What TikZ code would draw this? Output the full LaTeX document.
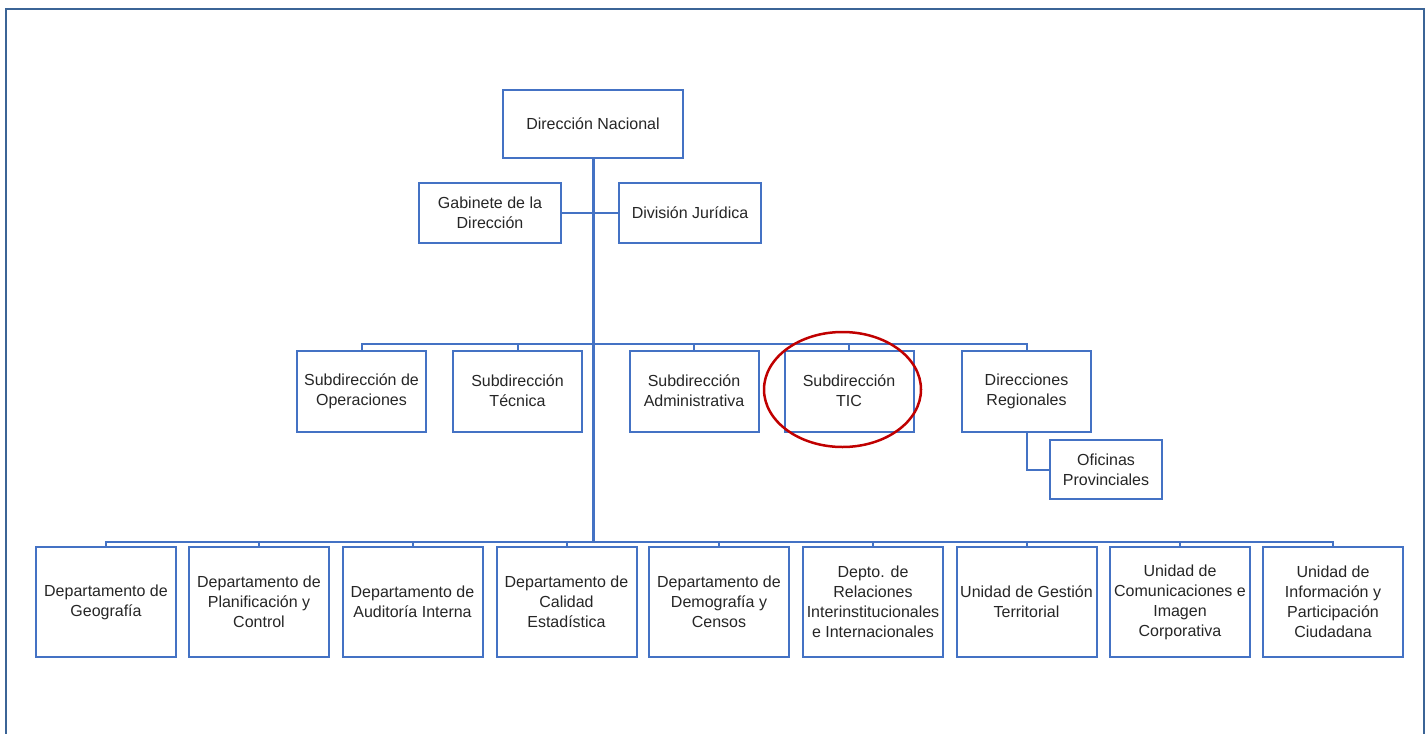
\documentclass[tikz,border=0pt]{standalone}
\usepackage{fontspec}
\setmainfont{Liberation Sans}
\usepackage{xcolor}
\usepackage{tikz}

\definecolor{boxblue}{HTML}{4472C4}
\definecolor{frameblue}{HTML}{3B6496}
\definecolor{markred}{HTML}{C00000}

\begin{document}
\begin{tikzpicture}[x=1pt,y=-1pt]
      \tikzstyle{unit}=[draw=boxblue, line width=2pt, fill=white, align=center, inner sep=0pt, text=black!85, font=\fontsize{16}{20}\selectfont]
      \tikzstyle{unit_top}=[unit, minimum width=180pt, minimum height=68pt]
      \tikzstyle{unit_staff}=[unit, minimum width=142pt, minimum height=60pt]
      \tikzstyle{unit_sub}=[unit, minimum width=129pt, minimum height=81pt]
      \tikzstyle{unit_small}=[unit, minimum width=112pt, minimum height=59pt]
      \tikzstyle{unit_dept}=[unit, minimum width=140pt, minimum height=110pt]
      \tikzstyle{branch}=[draw=boxblue, line width=2pt]
      \tikzstyle{trunk}=[draw=boxblue, line width=3pt]
      \tikzstyle{frame}=[draw=frameblue, line width=2.5pt]
      \tikzstyle{highlight}=[draw=markred, line width=2.5pt]

      \useasboundingbox (0,0) rectangle (1428,734);
      \draw [frame] (6,734) -- (6,9) -- (1424,9) -- (1424,734);

      % top
      \node [unit_top] (dir_nacional) at (593,124) {Dirección Nacional};
      \node [unit_staff] (gabinete) at (490,213) {Gabinete de la\\Dirección};
      \node [unit_staff] (juridica) at (690,213) {División Jurídica};

      \coordinate (bus_sub) at (593,344);
      \coordinate (bus_deptos) at (593,542);

      % subdirecciones
      \node [unit_sub] (operaciones) at (361.5,391) {Subdirección de\\Operaciones};
      \node [unit_sub] (tecnica) at (517.5,391) {Subdirección\\Técnica};
      \node [unit_sub] (administrativa) at (694,391) {Subdirección\\Administrativa};
      \node [unit_sub] (tic) at (849,391) {Subdirección\\TIC};
      \node [unit_sub] (regionales) at (1026.5,391) {Direcciones\\Regionales};
      \node [unit_small] (provinciales) at (1106,469.5) {Oficinas\\Provinciales};

      % departamentos y unidades
      \node [unit_dept] (geografia) at (106,602) {Departamento de\\Geografía};
      \node [unit_dept] (planificacion) at (259,602) {Departamento de\\Planificación y\\Control};
      \node [unit_dept] (auditoria) at (412.5,602) {Departamento de\\Auditoría Interna};
      \node [unit_dept] (calidad) at (566.5,602) {Departamento de\\Calidad\\Estadística};
      \node [unit_dept] (demografia) at (719,602) {Departamento de\\Demografía y\\Censos};
      \node [unit_dept] (relaciones) at (873,602) {Depto. de\\Relaciones\\Interinstitucionales\\e Internacionales};
      \node [unit_dept] (territorial) at (1026.5,602) {Unidad de Gestión\\Territorial};
      \node [unit_dept] (comunicaciones) at (1180,602) {Unidad de\\Comunicaciones e\\Imagen\\Corporativa};
      \node [unit_dept] (ciudadana) at (1333,602) {Unidad de\\Información y\\Participación\\Ciudadana};

      % lines
      \draw [branch] (gabinete.east) -- (juridica.west);
      \draw [branch] (operaciones.north) |- (bus_sub) -| (regionales.north);
      \draw [branch] (tecnica.north) -- (tecnica.north |- bus_sub);
      \draw [branch] (administrativa.north) -- (administrativa.north |- bus_sub);
      \draw [branch] (tic.north) -- (tic.north |- bus_sub);
      \draw [branch] (regionales.south) |- (provinciales.west);
      \draw [branch] (geografia.north) |- (bus_deptos) -| (ciudadana.north);
      \draw [branch] (planificacion.north) -- (planificacion.north |- bus_deptos);
      \draw [branch] (auditoria.north) -- (auditoria.north |- bus_deptos);
      \draw [branch] (calidad.north) -- (calidad.north |- bus_deptos);
      \draw [branch] (demografia.north) -- (demografia.north |- bus_deptos);
      \draw [branch] (relaciones.north) -- (relaciones.north |- bus_deptos);
      \draw [branch] (territorial.north) -- (territorial.north |- bus_deptos);
      \draw [branch] (comunicaciones.north) -- (comunicaciones.north |- bus_deptos);
      \draw [trunk] (dir_nacional.south) -- (bus_deptos);

      % TIC mark
      \draw [highlight] (842.5,389.5) ellipse [x radius=78.5pt, y radius=57.5pt];
\end{tikzpicture}
\end{document}
